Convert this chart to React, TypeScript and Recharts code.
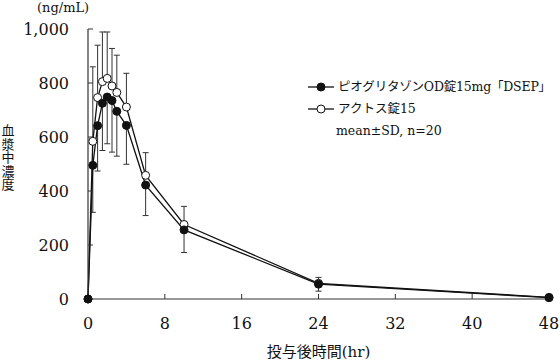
import { LineChart, Line, XAxis, YAxis, ErrorBar } from 'recharts';

// sampling times (hr)
const hours = [0, 0.5, 1, 1.5, 2, 2.5, 3, 4, 6, 10, 24, 48];
// ピオグリタゾンOD錠15mg「DSEP」 mean / SD (drawn downward)
const odMean = [0, 495, 642, 725, 748, 735, 695, 643, 422, 256, 55, 5];
const odSd = [0, 174, 168, 175, 173, 191, 166, 144, 113, 84, 26, 3];
// アクトス錠15 mean / SD (drawn upward)
const actosMean = [0, 584, 746, 805, 817, 789, 765, 711, 458, 276, 58, 6];
const actosSd = [0, 276, 194, 184, 172, 139, 138, 125, 84, 67, 22, 4];

const xTicks = [0, 8, 16, 24, 32, 40, 48];
const yTicks = [0, 200, 400, 600, 800, 1000];

const SERIF = '"DejaVu Serif", "Noto Sans CJK JP", serif';
const INK = '#111';

const rows = hours.map((t, i) => ({
  t,
  od: odMean[i],
  odErr: [odSd[i], 0],
  actos: actosMean[i],
  actosErr: [0, actosSd[i]],
}));

function LegendGlyph({ open }: { open: boolean }) {
  return (
    <svg width={26} height={10} style={{ flexShrink: 0 }}>
      <line x1={0} y1={5} x2={26} y2={5} stroke={INK} strokeWidth={1.3} />
      <circle cx={13} cy={5} r={4} fill={open ? '#fff' : INK} stroke={INK} strokeWidth={1} />
    </svg>
  );
}

export default function App() {
  return (
    <div style={{ position: 'absolute', left: 0, top: 0, width: 560, height: 361, background: '#fff', fontFamily: SERIF }}>
      <LineChart width={560} height={361} data={rows} margin={{ top: 29, right: 11, left: 0, bottom: 0 }}>
        <XAxis
          dataKey="t"
          type="number"
          domain={[0, 48]}
          ticks={xTicks}
          height={62}
          axisLine={{ stroke: '#333', strokeWidth: 1.2 }}
          tickLine={{ stroke: '#333' }}
          tickSize={-5}
          tickMargin={24}
          tick={{ fill: INK, fontSize: 16, fontFamily: SERIF }}
          label={{ value: '投与後時間(hr)', position: 'insideBottom', offset: 4, fill: INK, fontSize: 15, fontFamily: SERIF }}
        />
        <YAxis
          type="number"
          domain={[0, 1000]}
          ticks={yTicks}
          width={88}
          axisLine={{ stroke: '#333', strokeWidth: 1.2 }}
          tickLine={{ stroke: '#333' }}
          tickSize={-5}
          tickMargin={24}
          tick={{ fill: INK, fontSize: 16, fontFamily: SERIF }}
          tickFormatter={(v: number) => v.toLocaleString('en-US')}
        />
        <Line
          dataKey="actos"
          type="linear"
          stroke={INK}
          strokeWidth={1.3}
          dot={{ r: 4, fill: '#fff', stroke: INK, strokeWidth: 1 }}
          isAnimationActive={false}
        >
          <ErrorBar dataKey="actosErr" direction="y" width={3} stroke="#333" strokeWidth={1} />
        </Line>
        <Line
          dataKey="od"
          type="linear"
          stroke={INK}
          strokeWidth={1.3}
          dot={{ r: 4, fill: INK, stroke: INK, strokeWidth: 1 }}
          isAnimationActive={false}
        >
          <ErrorBar dataKey="odErr" direction="y" width={3} stroke="#333" strokeWidth={1} />
        </Line>
      </LineChart>

      <div style={{ position: 'absolute', left: 37, top: 0, fontSize: 13, color: INK }}>(ng/mL)</div>

      <div
        style={{
          position: 'absolute', left: 1, top: 124, width: 14,
          fontSize: 13, lineHeight: '13.5px', color: INK, textAlign: 'center',
        }}
      >
        {'血漿中濃度'.split('').map((c, i) => (
          <div key={i}>{c}</div>
        ))}
      </div>

      <div style={{ position: 'absolute', left: 308, top: 76, fontSize: 12.5, color: INK, lineHeight: '22px' }}>
        <div style={{ display: 'flex', alignItems: 'center', gap: 4 }}>
          <LegendGlyph open={false} />
          <span style={{ whiteSpace: 'nowrap', letterSpacing: -0.2 }}>ピオグリタゾンOD錠15mg「DSEP」</span>
        </div>
        <div style={{ display: 'flex', alignItems: 'center', gap: 4 }}>
          <LegendGlyph open />
          <span>アクトス錠15</span>
        </div>
        <div style={{ paddingLeft: 28 }}>mean±SD, n=20</div>
      </div>
    </div>
  );
}
